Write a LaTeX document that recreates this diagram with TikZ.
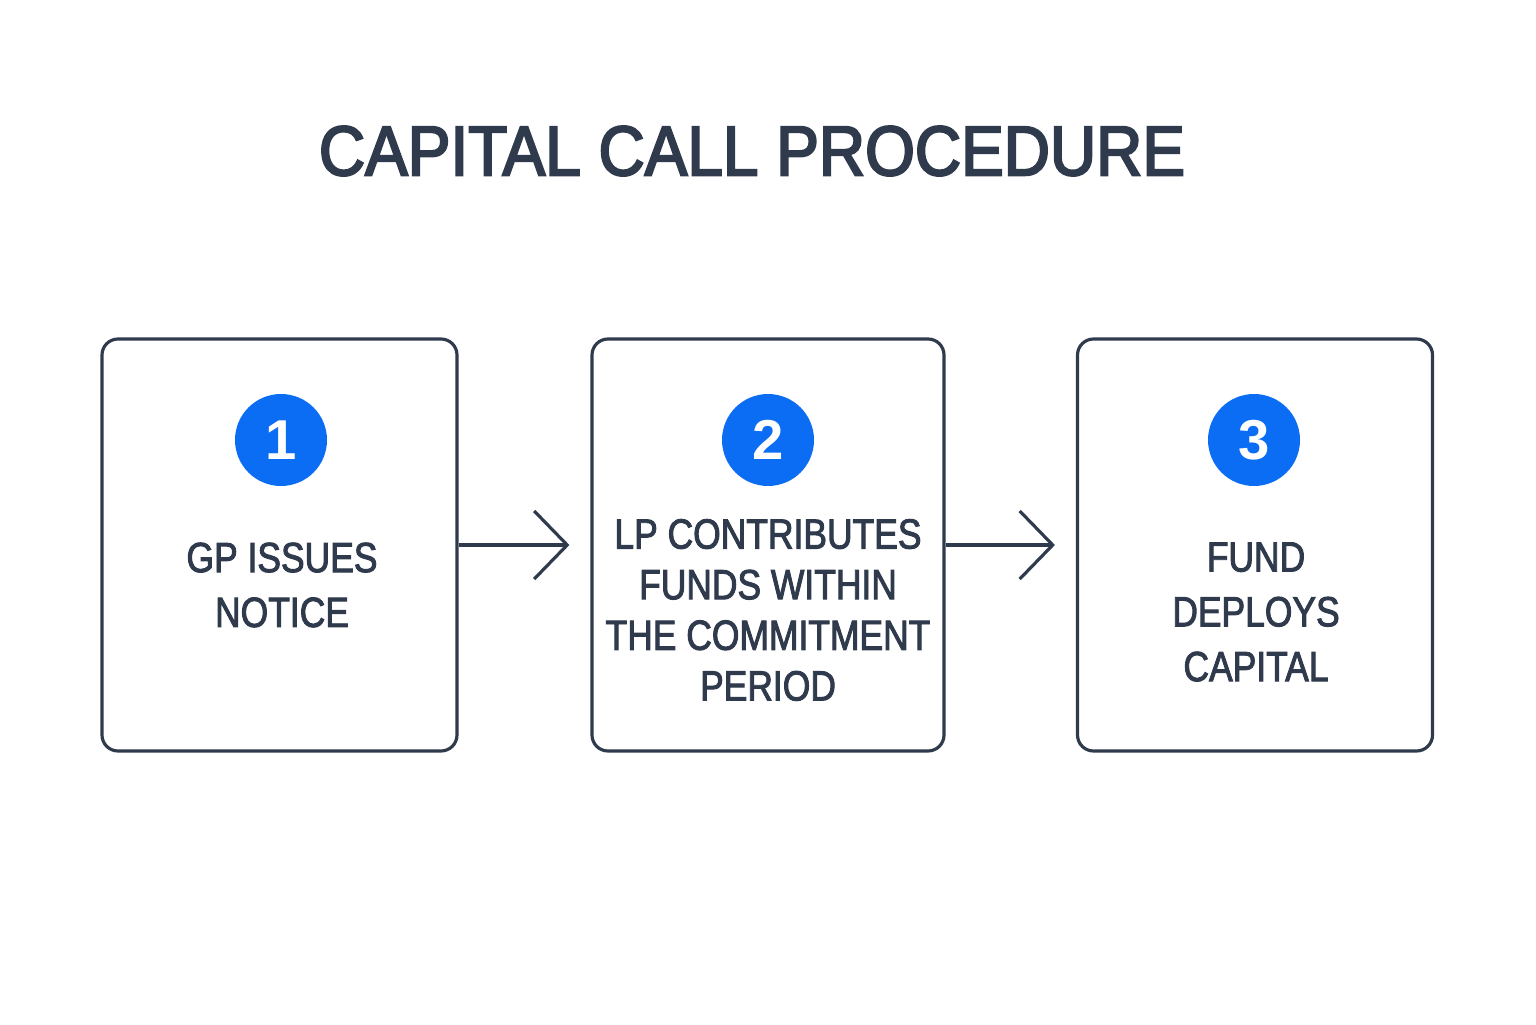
\documentclass[tikz,border=0pt]{standalone}
\usepackage{fontspec}
\setmainfont{Liberation Sans}
\newfontfamily\medfont[FakeBold=2.2, FakeStretch=0.84]{Liberation Sans}
\newfontfamily\headfont[FakeBold=3, FakeStretch=0.91]{Liberation Sans}
\usetikzlibrary{arrows.meta}

\definecolor{inkslate}{HTML}{2F3A4C}
\definecolor{stepblue}{HTML}{0B6CF4}

\tikzset{
    stagebox/.style={draw=inkslate, line width=0.9pt, rounded corners=0.16cm,
        minimum width=3.55cm, minimum height=4.12cm, inner sep=0pt},
    badge/.style={circle, fill=stepblue, minimum size=0.92cm, inner sep=0pt,
        text=white, font=\bfseries\fontsize{16}{16}\selectfont},
    caption/.style={text=inkslate, align=center,
        font=\medfont\fontsize{12}{15.6}\selectfont},
    flow/.style={draw=inkslate, line width=0.9pt, shorten >=0.21cm,
        -{Straight Barb[length=0.33cm, width=0.68cm, line width=0.9pt]}}
}

\begin{document}
\begin{tikzpicture}
    \useasboundingbox (0, 0) rectangle (15.36, 10.24);

    \node[text=inkslate, font=\headfont\fontsize{20}{20}\selectfont]
        (title) at (7.52, 8.73) {CAPITAL CALL PROCEDURE};

    \node[stagebox] (issue) at (2.795, 4.79) {};
    \node[stagebox, minimum width=3.52cm] (contrib) at (7.68, 4.79) {};
    \node[stagebox] (deploy) at (12.55, 4.79) {};

    \node[badge] (num1) at (2.81, 5.84) {1};
    \node[badge] (num2) at (7.68, 5.84) {2};
    \node[badge] (num3) at (12.54, 5.84) {3};

    \node[caption] (txt1) at (2.82, 4.39) {GP ISSUES\\NOTICE};
    \node[caption, font=\medfont\fontsize{12}{14.4}\selectfont] (txt2)
        at (7.68, 4.14) {LP CONTRIBUTES\\FUNDS WITHIN\\THE COMMITMENT\\PERIOD};
    \node[caption] (txt3) at (12.56, 4.12) {FUND\\DEPLOYS\\CAPITAL};

    % steps in order
    \draw[flow] (issue) -- (contrib);
    \draw[flow] (contrib) -- (deploy);
\end{tikzpicture}
\end{document}
